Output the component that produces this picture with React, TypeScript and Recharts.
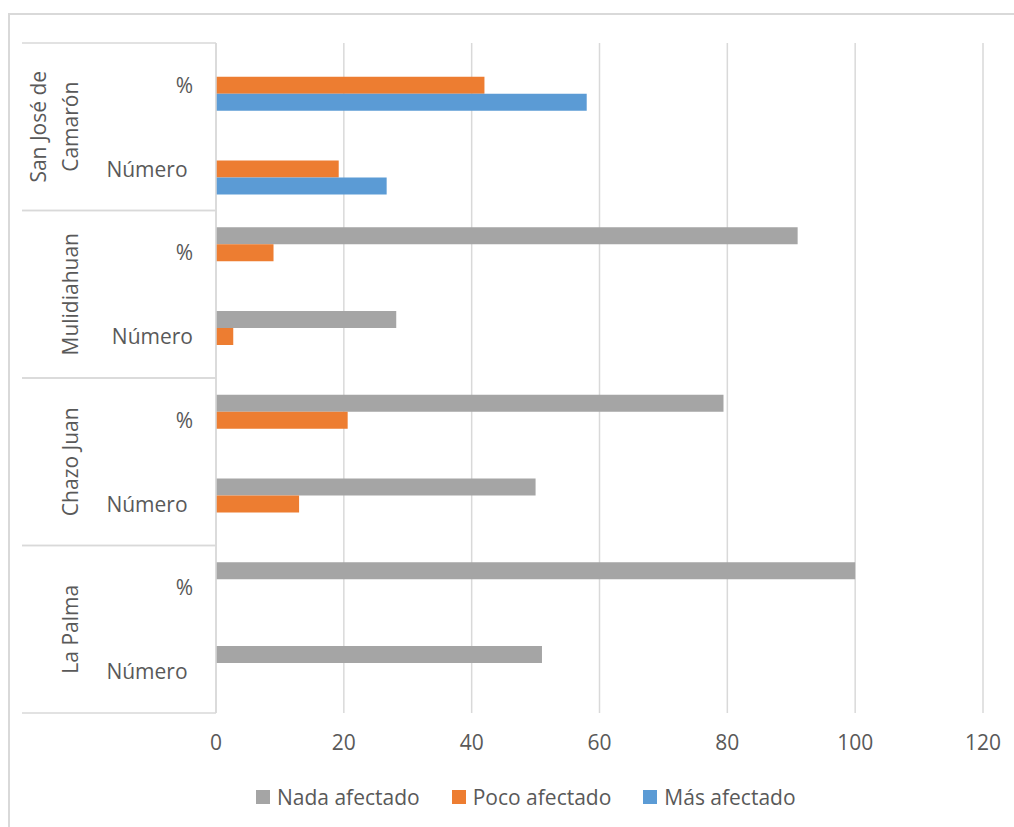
import React from "react";
import { BarChart, Bar, XAxis, YAxis, CartesianGrid, Legend } from "recharts";

// Rows are listed top to bottom as they appear on the category axis.
const groups = ["San José de Camarón", "Mulidiahuan", "Chazo Juan", "La Palma"];
const groupLines: Record<string, string[]> = {
  "San José de Camarón": ["San José de", "Camarón"],
  Mulidiahuan: ["Mulidiahuan"],
  "Chazo Juan": ["Chazo Juan"],
  "La Palma": ["La Palma"],
};
const rowLabels = ["%", "Número ", "%", "Número", "%", "Número ", "%", "Número "];
const rowGroups = groups.flatMap((g) => [g, g]);

const nadaAfectado = [null, null, 91, 28.2, 79.4, 50, 100, 51];
const pocoAfectado = [42, 19.2, 9, 2.7, 20.6, 13, null, null];
const masAfectado = [58, 26.7, null, null, null, null, null, null];

const xTicks = [0, 20, 40, 60, 80, 100, 120];

const series = [
  { key: "nada", name: "Nada afectado", color: "#A5A5A5" },
  { key: "poco", name: "Poco afectado", color: "#ED7D31" },
  { key: "mas", name: "Más afectado", color: "#5B9BD5" },
];

const data = rowLabels.map((label, i) => ({
  label,
  group: rowGroups[i],
  nada: nadaAfectado[i],
  poco: pocoAfectado[i],
  mas: masAfectado[i],
}));

const FONT = '"Open Sans", sans-serif';
const FONT_SIZE = 21;
const TEXT = "#595959";
const LINE = "#D9D9D9";

const W = 1014;
const H = 827;
const MARGIN = { top: 43, right: 31, bottom: 24, left: 0 };
const X_AXIS_H = 50;
const LEGEND_H = 40;
const PLOT_H = H - MARGIN.top - MARGIN.bottom - X_AXIS_H - LEGEND_H;

function CategoryTick(props: any) {
  const { x, y, payload, index } = props;
  const half =
    payload && typeof payload.offset === "number" && payload.offset > 0
      ? payload.offset
      : PLOT_H / rowLabels.length / 2;
  const isTop = index % 2 === 0;
  const group = rowGroups[index];
  const lines = groupLines[group] || [group];
  const cy = y + half;
  const lastX = 70;
  const step = 32;
  return (
    <g>
      <text
        x={x - 23}
        y={y}
        textAnchor="end"
        dominantBaseline="central"
        fill={TEXT}
        fontSize={FONT_SIZE}
        fontFamily={FONT}
        style={{ whiteSpace: "pre" }}
      >
        {rowLabels[index]}
      </text>
      <line
        x1={22}
        x2={x}
        y1={isTop ? y - half : y + half}
        y2={isTop ? y - half : y + half}
        stroke={LINE}
        strokeWidth={1.5}
      />
      {isTop &&
        lines.map((ln, i) => {
          const cx = lastX - (lines.length - 1 - i) * step;
          return (
            <text
              key={ln}
              x={cx}
              y={cy}
              transform={`rotate(-90, ${cx}, ${cy})`}
              textAnchor="middle"
              dominantBaseline="central"
              fill={TEXT}
              fontSize={FONT_SIZE}
              fontFamily={FONT}
            >
              {ln}
            </text>
          );
        })}
    </g>
  );
}

function LegendContent() {
  return (
    <div
      style={{
        display: "flex",
        alignItems: "center",
        height: LEGEND_H,
        paddingLeft: 256,
        fontFamily: FONT,
        fontSize: FONT_SIZE,
        color: TEXT,
        whiteSpace: "nowrap",
      }}
    >
      {series.map((s) => (
        <div key={s.key} style={{ display: "flex", alignItems: "center", marginRight: 32 }}>
          <span
            style={{
              display: "inline-block",
              width: 14,
              height: 14,
              background: s.color,
              marginRight: 7,
            }}
          />
          <span>{s.name}</span>
        </div>
      ))}
    </div>
  );
}

export default function App() {
  return (
    <div
      style={{
        position: "absolute",
        left: 0,
        top: 0,
        width: W,
        height: H,
        overflow: "hidden",
        background: "#fff",
      }}
    >
      <div
        style={{
          position: "absolute",
          left: 8,
          top: 13,
          width: 1100,
          height: 1000,
          border: `2px solid ${LINE}`,
          boxSizing: "border-box",
        }}
      />
      <div style={{ position: "absolute", left: 0, top: 0 }}>
        <BarChart
          width={W}
          height={H}
          data={data}
          layout="vertical"
          margin={MARGIN}
          barCategoryGap="20%"
          barGap={0}
          style={{ fontFamily: FONT }}
        >
          <CartesianGrid horizontal={false} stroke={LINE} strokeWidth={1.5} />
          <XAxis
            type="number"
            domain={[0, 120]}
            ticks={xTicks}
            axisLine={false}
            tickLine={false}
            tickSize={0}
            tickMargin={22}
            height={X_AXIS_H}
            tick={{ fill: TEXT, fontSize: FONT_SIZE, fontFamily: FONT }}
          />
          <YAxis
            type="category"
            dataKey="label"
            width={216}
            axisLine={{ stroke: LINE, strokeWidth: 1.5 }}
            tickLine={false}
            tickSize={0}
            tickMargin={0}
            interval={0}
            tick={<CategoryTick />}
          />
          <Legend
            verticalAlign="bottom"
            content={<LegendContent />}
            wrapperStyle={{ left: 0, width: W, bottom: 10, height: LEGEND_H }}
          />
          {series.map((s) => (
            <Bar
              key={s.key}
              dataKey={s.key}
              name={s.name}
              fill={s.color}
              isAnimationActive={false}
            />
          ))}
        </BarChart>
      </div>
    </div>
  );
}
